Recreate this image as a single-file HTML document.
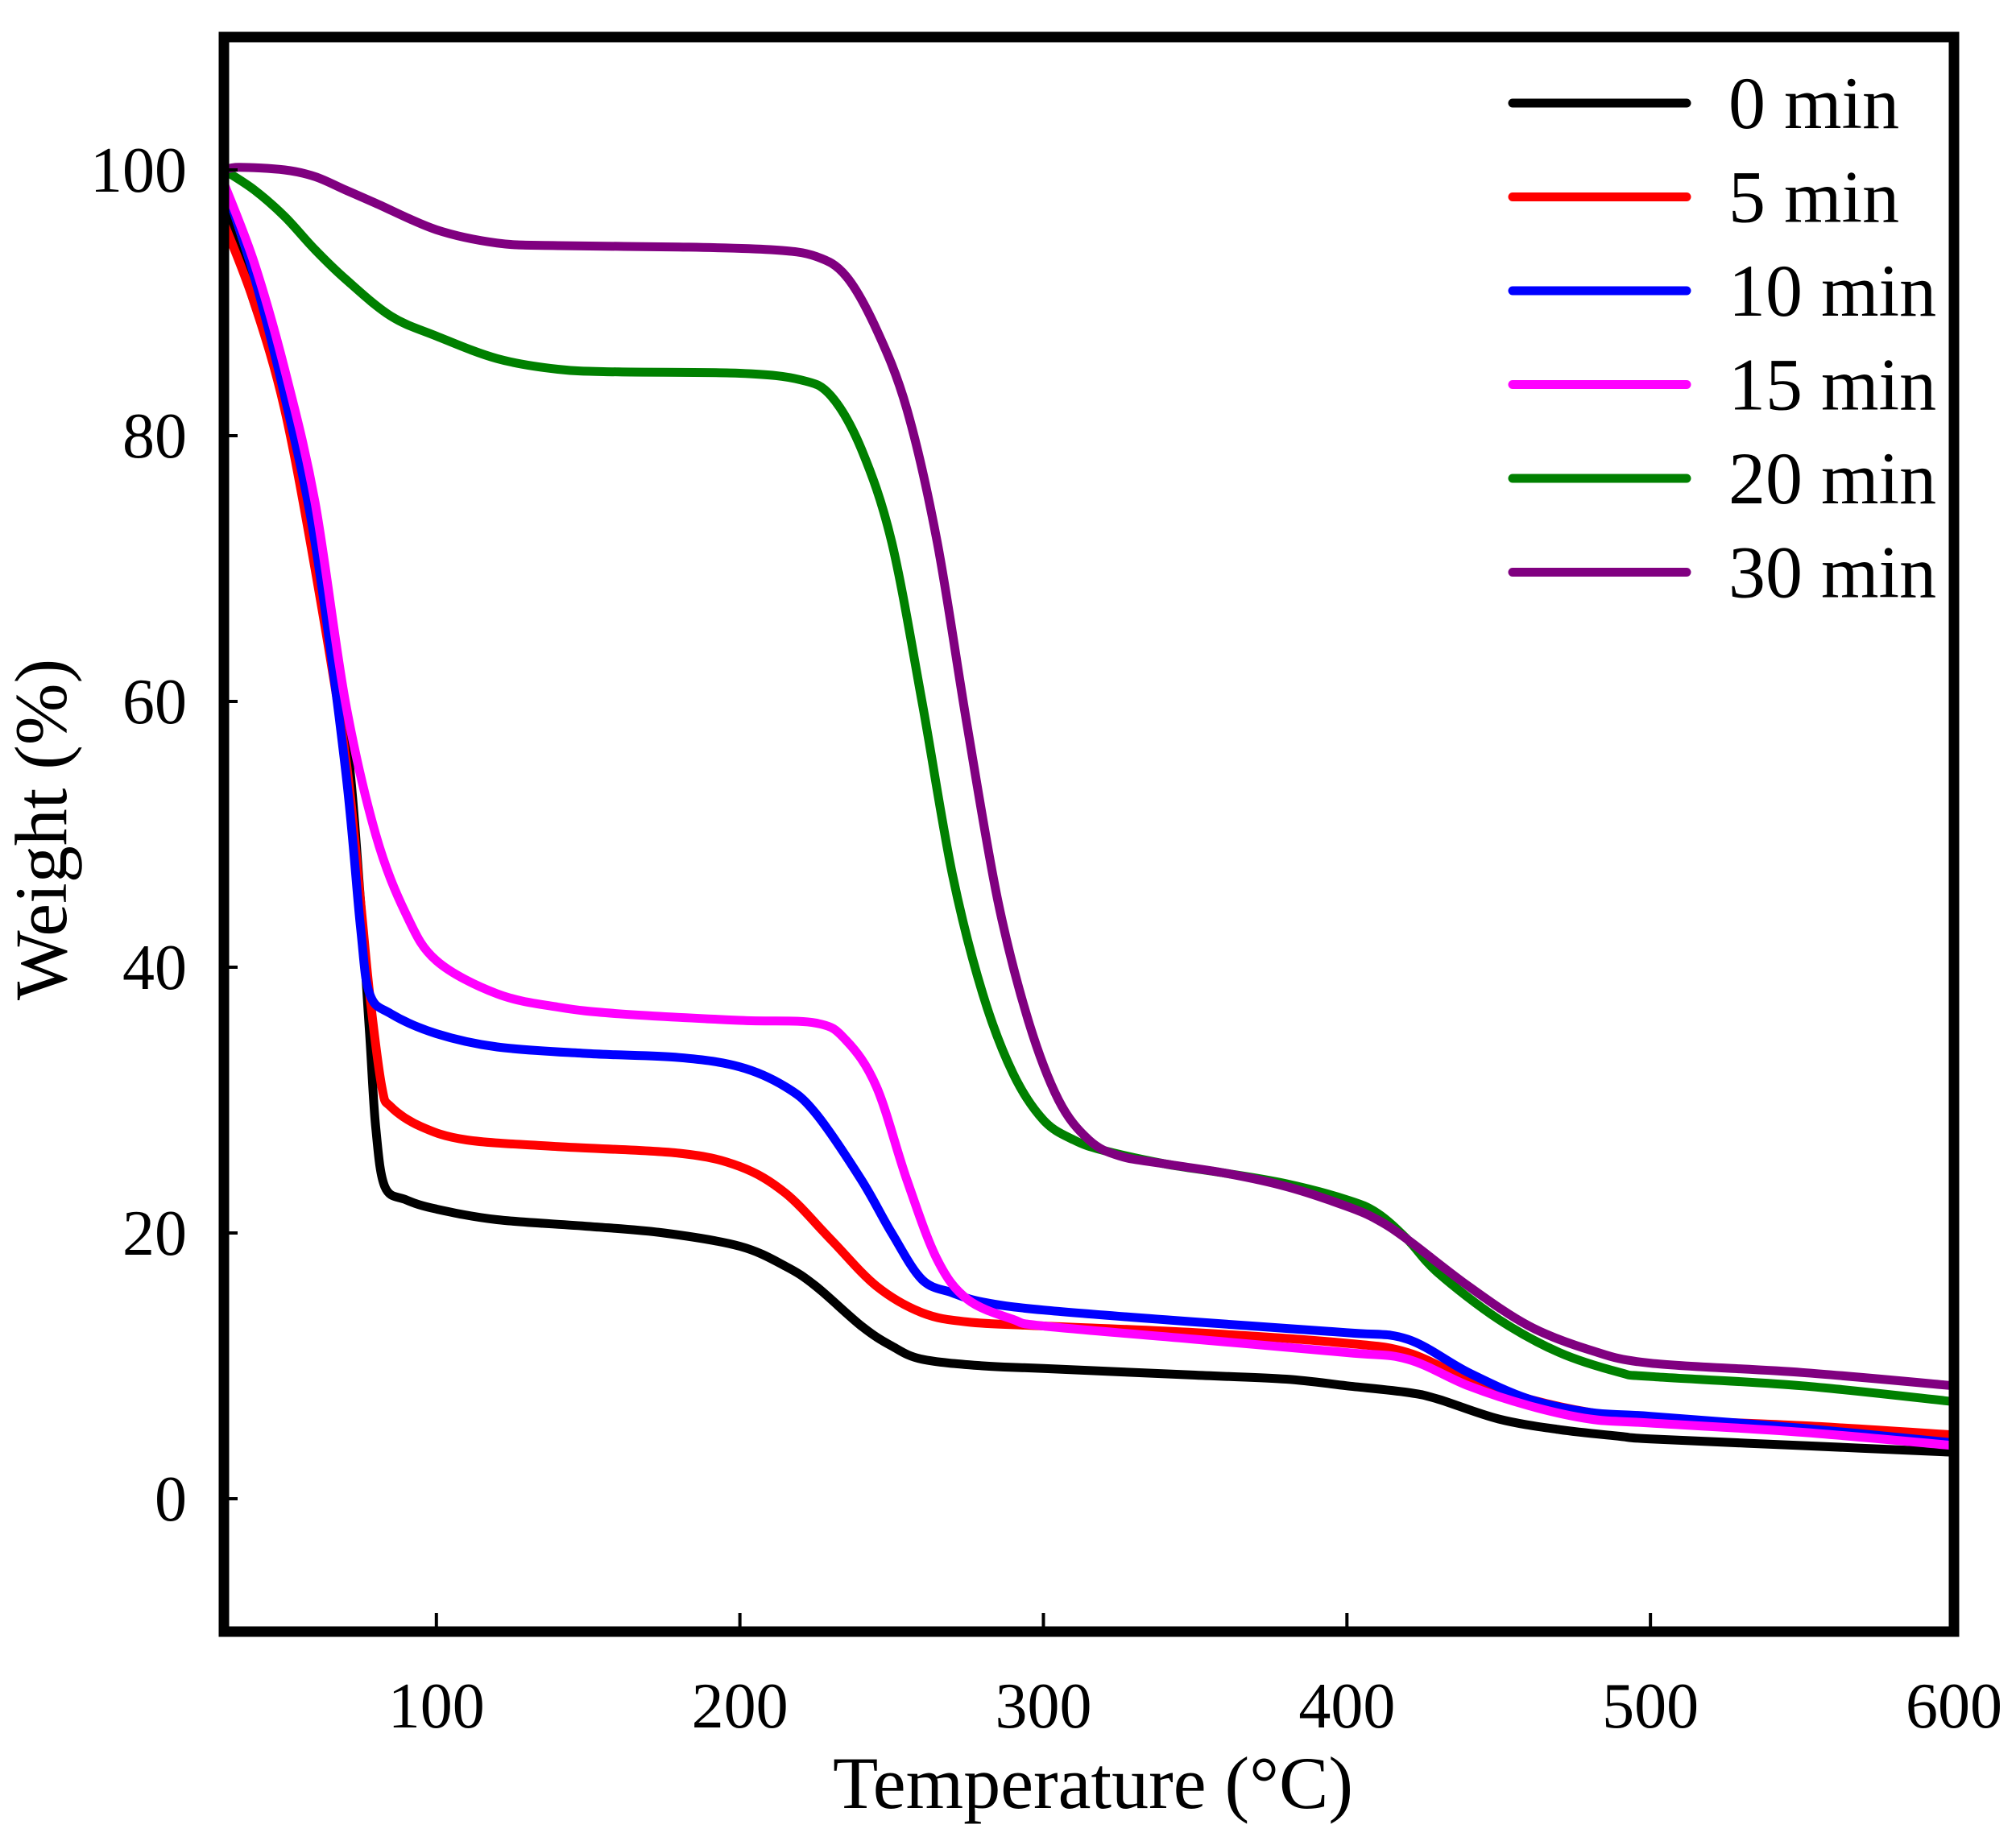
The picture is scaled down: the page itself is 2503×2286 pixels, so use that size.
<!DOCTYPE html>
<html><head><meta charset="utf-8"><style>
html,body{margin:0;padding:0;background:#fff;}
svg{display:block;font-family:"Liberation Serif",serif;}
</style></head><body>
<svg id="chart" width="2503" height="2286" viewBox="0 0 2503 2286">
<g id="plot"></g>
<rect x="278" y="46" width="2148" height="1980" fill="none" stroke="#000" stroke-width="13"/>
<g id="axes"></g>
<text x="1357" y="2245" font-size="92" text-anchor="middle">Temperature (°C)</text>
<text transform="translate(82,1030) rotate(-90)" font-size="92" text-anchor="middle">Weight (%)</text>
<g id="legend"></g>
</svg>
<script>
const xTicks=[100,200,300,400,500,600];
const yTicks=[0,20,40,60,80,100];
const seriesNames=["0 min","5 min","10 min","15 min","20 min","30 min"];
const seriesColors=["#000000","#ff0000","#0000ff","#ff00ff","#008000","#800080"];
const t0=[30,40,50,60,70,75,78,80,83,90,100,120,150,175,200,215,225,240,250,260,280,300,350,380,400,420,430,450,470,490,500,550,600];
const w0=[97,90,83,72,58,45,35,28,23.5,22.5,21.8,21,20.5,20,19,17.5,16,13,11.5,10.5,10,9.8,9.3,9,8.5,8,7.5,6,5.2,4.7,4.5,4,3.5];
const t5=[30,40,50,60,70,75,78,82,85,95,110,140,180,200,215,230,245,260,275,300,350,400,420,440,460,480,500,550,600];
const w5=[96,90,82,70,56,45,38,31,29.5,28,27,26.5,26,25,23,19.5,16,14,13.3,13,12.5,11.7,11,9,7.5,6.5,6,5.5,4.8];
const t10=[30,40,50,60,70,75,78,85,100,120,150,180,200,215,225,240,250,260,270,280,300,350,400,420,440,460,480,500,550,600];
const w10=[99,92,83,72,55,43,38,36.5,35,34,33.5,33.2,32.5,31,29,24,20,16.5,15.5,14.8,14.2,13.3,12.5,12,9.5,7.5,6.5,6.2,5.3,4.2];
const t15=[30,40,50,60,70,80,90,100,120,140,160,200,225,235,245,255,265,275,290,300,350,400,420,440,460,480,500,550,600];
const w15=[99,93,85,75,60,50,44,40.5,38,37,36.5,36,35.8,34.5,31,24,18,15,13.5,13,12,11,10.5,8.5,7,6,5.7,5,4];
const t20=[30,40,50,60,70,85,100,120,140,160,200,220,230,240,250,260,270,280,290,300,310,320,340,360,380,400,410,420,430,450,470,490,500,550,600];
const w20=[100,98.5,96.5,94,91.8,89,87.5,85.8,85,84.8,84.7,84.2,83,79,72,60,47,38,32,28.5,27,26.2,25.2,24.5,23.7,22.5,21.5,19.5,17,13.5,11,9.5,9.2,8.5,7.3];
const t30=[30,35,50,60,70,80,100,120,140,180,210,225,235,245,255,265,275,285,295,305,315,325,340,360,380,400,410,420,440,460,480,500,550,600];
const w30=[100,100.2,100,99.5,98.5,97.5,95.5,94.5,94.3,94.2,94,93.5,92,88,82,72,58,45,36,30,27,25.8,25.2,24.5,23.5,22,21,19.5,16,13,11.2,10.2,9.5,8.5];
const temps=[t0,t5,t10,t15,t20,t30];
const weights=[w0,w5,w10,w15,w20,w30];

const NS="http://www.w3.org/2000/svg";
const X0=278,X1=2426,Y0=46,Y1=2026,TMIN=30,TMAX=600,VMIN=-10,VMAX=110;
function xs(t){return X0+(t-TMIN)/(TMAX-TMIN)*(X1-X0);}
function ys(v){return Y1-(v-VMIN)/(VMAX-VMIN)*(Y1-Y0);}
const plot=document.getElementById('plot'),axes=document.getElementById('axes'),legend=document.getElementById('legend');
function mk(tag,attrs,parent){const e=document.createElementNS(NS,tag);for(const k in attrs)e.setAttribute(k,attrs[k]);parent.appendChild(e);return e;}
function smoothPath(pts){
  let d="M"+pts[0][0].toFixed(1)+","+pts[0][1].toFixed(1);
  for(let i=0;i<pts.length-1;i++){
    const p0=pts[Math.max(0,i-1)],p1=pts[i],p2=pts[i+1],p3=pts[Math.min(pts.length-1,i+2)];
    const c1=[p1[0]+(p2[0]-p0[0])/6,p1[1]+(p2[1]-p0[1])/6];
    const c2=[p2[0]-(p3[0]-p1[0])/6,p2[1]-(p3[1]-p1[1])/6];
    d+=" C"+c1[0].toFixed(1)+","+c1[1].toFixed(1)+" "+c2[0].toFixed(1)+","+c2[1].toFixed(1)+" "+p2[0].toFixed(1)+","+p2[1].toFixed(1);
  }
  return d;
}
for(let s=0;s<temps.length;s++){
  const pts=temps[s].map((t,i)=>[xs(t),ys(weights[s][i])]);
  const p=mk('path',{d:smoothPath(pts),fill:'none',stroke:seriesColors[s],'stroke-width':11,'stroke-linejoin':'round','stroke-linecap':'round'},plot);
  
  
}
xTicks.forEach(t=>{
  if(t<TMAX){const l=mk('line',{x1:xs(t),x2:xs(t),y1:Y1,y2:Y1-23,stroke:'#000','stroke-width':4},axes);
  
  }
  const tx=mk('text',{x:xs(t),y:2145,'font-size':80,'text-anchor':'middle'},axes);
  tx.textContent=t;
  
  
});
yTicks.forEach(v=>{
  const l=mk('line',{x1:X0,x2:X0+17,y1:ys(v),y2:ys(v),stroke:'#000','stroke-width':4},axes);
  
  
  const tx=mk('text',{x:232,y:ys(v)+27,'font-size':80,'text-anchor':'end'},axes);
  tx.textContent=v;
  
  
});
seriesNames.forEach((n,i)=>{
  const y=128+i*116.5;
  const g=mk('g',{},legend);
  
  
  mk('line',{x1:1878,x2:2094,y1:y,y2:y,stroke:seriesColors[i],'stroke-width':11,'stroke-linecap':'round'},g);
  const tx=mk('text',{x:2146,y:y+31,'font-size':92},g);
  tx.textContent=n;
});
</script>
</body></html>
